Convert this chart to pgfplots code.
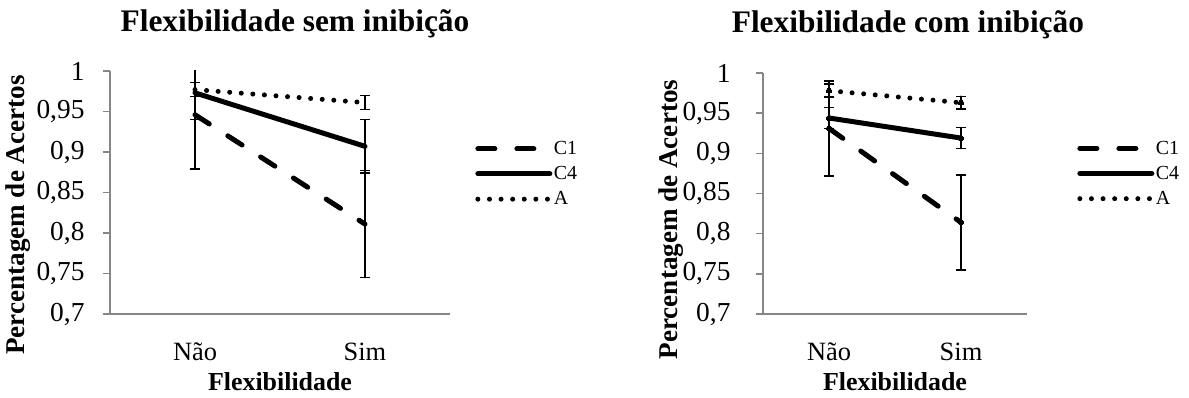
\documentclass[border=0pt]{standalone}
\usepackage{fontspec}
\setmainfont{Liberation Serif}
\usepackage{pgfplots}
\pgfplotsset{compat=1.18}
\definecolor{axgray}{RGB}{134,134,134}
\pgfplotsset{
  mybase/.style={
    scale only axis,
    anchor=south west,
    axis lines=left,
    axis line style={axgray, line width=1.5bp, -},
    xmin=-0.5, xmax=1.5,
    ymin=0.7, ymax=1,
    xtick={0,1},
    xticklabels={Não,Sim},
    xtick style={draw=none},
    ytick={0.7,0.75,0.8,0.85,0.9,0.95,1},
    yticklabels={{0,7},{0,75},{0,8},{0,85},{0,9},{0,95},{1}},
    ytick style={axgray, line width=1.5bp},
    tick align=outside,
    major tick length=7bp,
    yticklabel style={font=\fontsize{27.5}{30}\selectfont, anchor=east},
    xticklabel style={font=\fontsize{26.5}{30}\selectfont, anchor=base, yshift=-39bp},
    xlabel={\textbf{Flexibilidade}},
    ylabel={\textbf{Percentagem de Acertos}},
    xlabel style={font=\fontsize{26}{30}\selectfont, at={(axis description cs:0.5,0)}, anchor=base, yshift=-76bp},
    title style={font=\fontsize{31.5}{36}\selectfont\bfseries, anchor=base},
    legend cell align=left,
    legend image code/.code={\draw[#1] (0bp,0bp) -- (72bp,0bp);},
    legend style={draw=none, fill=none, font=\fontsize{20}{22}\selectfont, anchor=north west, inner sep=0pt, row sep=7.5bp, nodes={inner sep=1.5bp}},
    clip=true,
  },
  sC1/.style={black, line width=5bp, line cap=round, dash pattern=on 17bp off 22bp},
  sC4/.style={black, line width=5bp, line cap=round},
  sA/.style={black, line width=5bp, line cap=round, dash pattern=on 0bp off 11.6bp},
  mk/.style={mark=*, mark size=2.6bp, mark options={solid, line width=0pt, draw=none, fill=black}},
  eb/.style={/pgfplots/error bars/y dir=both, /pgfplots/error bars/y explicit, /pgfplots/error bars/error mark=-, /pgfplots/error bars/error mark options={rotate=90, black, line width=1.5bp, mark size=5bp, solid}, /pgfplots/error bars/error bar style={black, line width=1.5bp, solid}},
}
\begin{document}
\begin{tikzpicture}
\useasboundingbox (0,0) rectangle (1189bp,398bp);
% Left chart
\begin{axis}[mybase,
  at={(110bp,84bp)}, width=340bp, height=243bp,
  title={Flexibilidade sem inibição},
  title style={at={(axis description cs:0.544,1)}, yshift=34bp},
  ylabel style={at={(axis description cs:0,0.407)}, anchor=center, yshift=92bp, font=\fontsize{27.2}{30}\selectfont},
  yticklabel style={xshift=-15bp},
  legend style={at={(axis description cs:1.074,0.717)}},
]
\addplot[sC1, eb] coordinates {(0,0.946) +- (0,0.067) (1,0.811) +- (0,0.066)};
\addlegendentry{C1}
\addplot[sC4, eb] coordinates {(0,0.973) +- (0,0.033) (1,0.907) +- (0,0.033)};
\addlegendentry{C4}
\addplot[sA, eb] coordinates {(0,0.977) +- (0,0.0085) (1,0.961) +- (0,0.0085)};
\addlegendentry{A}
\end{axis}
% Right chart
\begin{axis}[mybase,
  at={(763bp,84bp)}, width=264bp, height=241bp,
  title={Flexibilidade com inibição},
  title style={at={(axis description cs:0.549,1)}, yshift=35bp},
  ylabel style={at={(axis description cs:0,0.392)}, anchor=center, yshift=92bp, font=\fontsize{27.2}{30}\selectfont},
  yticklabel style={xshift=-22bp},
  legend style={at={(axis description cs:1.19,0.725)}},
]
\addplot[sC1, eb, mk] coordinates {(0,0.931) +- (0,0.059) (1,0.814) +- (0,0.059)};
\addlegendentry{C1}
\addplot[sC4, eb, mk] coordinates {(0,0.944) +- (0,0.013) (1,0.919) +- (0,0.013)};
\addlegendentry{C4}
\addplot[sA, eb, mk] coordinates {(0,0.978) +- (0,0.008) (1,0.963) +- (0,0.008)};
\addlegendentry{A}
\end{axis}
\end{tikzpicture}
\end{document}
